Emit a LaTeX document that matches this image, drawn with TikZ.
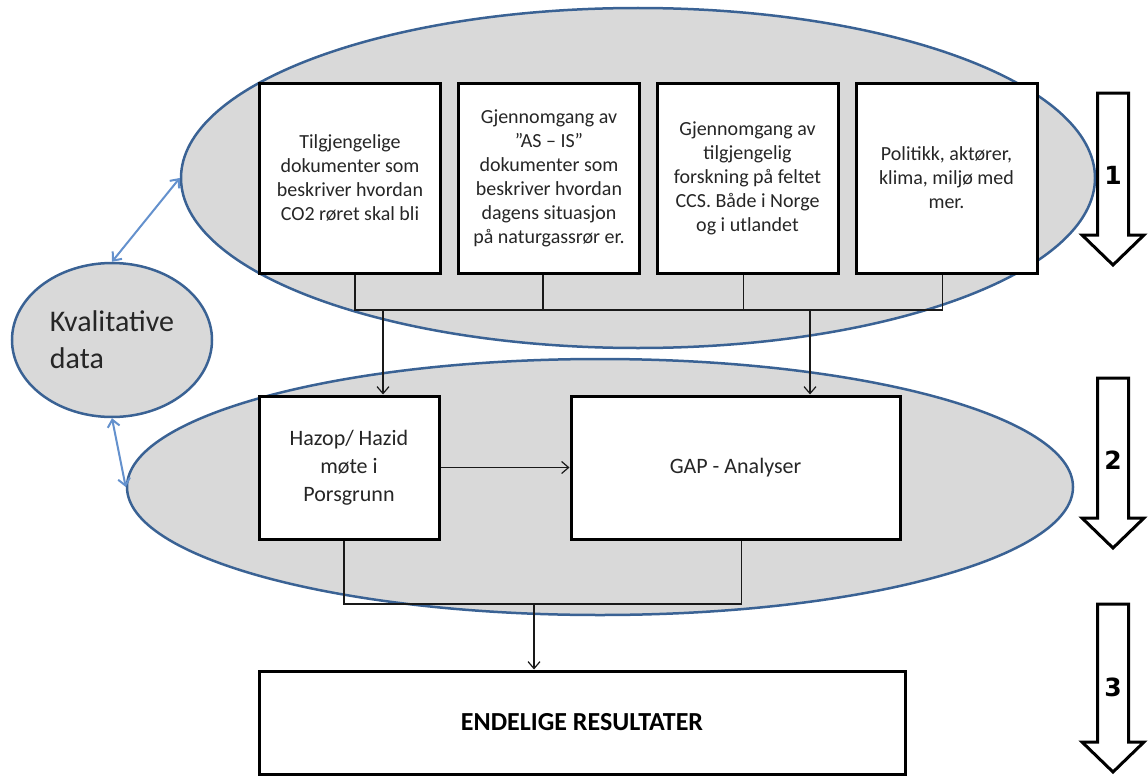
\documentclass[tikz,border=0pt]{standalone}
\usepackage{fontspec}
\setmainfont{Carlito}
\newfontfamily\numfont{DejaVu Sans}
\usetikzlibrary{arrows.meta,shapes.geometric,calc}
\definecolor{ellfill}{RGB}{217,217,217}
\definecolor{elldraw}{RGB}{58,98,148}
\definecolor{bluearr}{RGB}{100,145,205}
\definecolor{txt}{RGB}{38,38,38}
\definecolor{connc}{RGB}{25,25,25}
\begin{document}
\begin{tikzpicture}[x=1pt,y=-1pt,
  phase/.style={ellipse, fill=ellfill, draw=elldraw, line width=2.5pt, inner sep=0pt},
  topbox/.style={draw=black, fill=white, line width=3pt, inner sep=0pt, align=center, text=txt,
     minimum width=181pt, minimum height=190pt, font=\fontsize{20}{24}\selectfont},
  midbox/.style={draw=black, fill=white, line width=3pt, inner sep=0pt, align=center, text=txt,
     minimum height=143pt, font=\fontsize{22}{28}\selectfont},
  conn/.style={draw=connc, line width=1.2pt},
  tipped/.style={-{Straight Barb[length=7pt,width=12pt]}},
  bluelink/.style={draw=bluearr, line width=2pt,
     {Straight Barb[length=7pt,width=12pt]}-{Straight Barb[length=7pt,width=12pt]}},
  stagearrow/.style={draw=black, fill=white, line width=3pt, line join=miter},
  stagenum/.style={font=\numfont\bfseries\fontsize{25}{30}\selectfont, text=black}
]
\useasboundingbox (0,0) rectangle (1148,776);

% phase ellipses
\node[phase, minimum width=914pt, minimum height=340pt] (e1) at (638,178) {};
\node[phase, minimum width=946pt, minimum height=256pt] (e2) at (600,487) {};
\node[phase, minimum width=200pt, minimum height=154pt, align=left, text=txt,
      font=\fontsize{30}{37}\selectfont] (kd) at (112,340) {Kvalitative\\data};

% blue links
\draw[bluelink] (kd.north) -- (e1.west);
\draw[bluelink] (kd.south) -- (e2.west);

% top boxes
\node[topbox] (b1) at (350,178) {Tilgjengelige\\dokumenter som\\beskriver hvordan\\CO2 røret skal bli};
\node[topbox] (b2) at (549,178) {Gjennomgang av\\”AS – IS”\\dokumenter som\\beskriver hvordan\\dagens situasjon\\på naturgassrør er.};
\node[topbox] (b3) at (747.5,178) {Gjennomgang av\\tilgjengelig\\forskning på feltet\\CCS. Både i Norge\\og i utlandet};
\node[topbox] (b4) at (946.5,178) {Politikk, aktører,\\klima, miljø med\\mer.};

% middle boxes
\node[midbox, minimum width=180pt] (hz) at (349,467.5) {Hazop/ Hazid\\møte i\\Porsgrunn};
\node[midbox, minimum width=329pt] (gap) at (735.5,467.5) {GAP - Analyser};

% final box
\node[draw=black, fill=white, line width=3pt, minimum width=646pt, minimum height=103pt,
      font=\bfseries\fontsize{26}{31}\selectfont, text=black] (res) at (582,722.5) {ENDELIGE RESULTATER};

% connectors top
\coordinate (busT) at (0,310);
\draw[conn] ([xshift=5pt]b1.south) -- ([xshift=5pt]b1.south |- busT) -- ([xshift=-4pt]b4.south |- busT) -- ([xshift=-4pt]b4.south);
\draw[conn] ([xshift=-6pt]b2.south) -- ([xshift=-6pt]b2.south |- busT);
\draw[conn] ([xshift=-4pt]b3.south) -- ([xshift=-4pt]b3.south |- busT);
\coordinate (d1) at (383,310);
\coordinate (d2) at (810,310);
\draw[conn, tipped] (d1) -- (d1 |- hz.north);
\draw[conn, tipped] (d2) -- (d2 |- gap.north);

% connectors middle
\draw[conn, tipped] (hz.east) -- (gap.west);
\coordinate (busB) at (0,604);
\draw[conn] ([xshift=-5pt]hz.south) -- ([xshift=-5pt]hz.south |- busB) -- ([xshift=6pt]gap.south |- busB) -- ([xshift=6pt]gap.south);
\coordinate (d3) at (534,604);
\draw[conn, tipped] (d3) -- (d3 |- res.north);

% stage arrows
\foreach \t/\b/\n/\ny in {93/265/1/175, 378/548/2/460, 604/772/3/687}{
  \draw[stagearrow] (1097.5,\t) -- (1128.5,\t) -- (1128.5,\b-30) -- (1144,\b-30) -- (1113,\b)
     -- (1082,\b-30) -- (1097.5,\b-30) -- cycle;
  \node[stagenum] (n\n) at (1113,\ny) {\n};
}
\end{tikzpicture}
\end{document}
